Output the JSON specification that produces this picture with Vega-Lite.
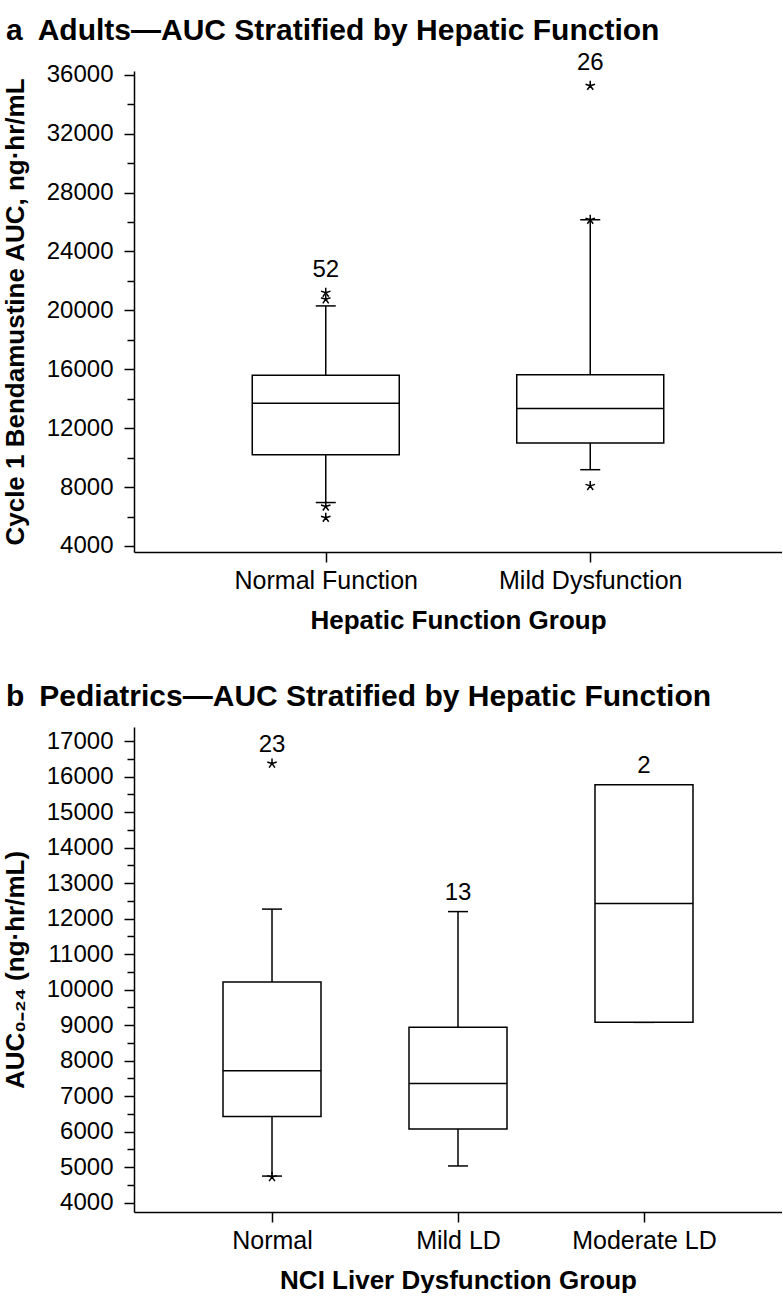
{
  "$schema": "https://vega.github.io/schema/vega-lite/v6.json",
  "background": "white",
  "padding": {"left": 2, "top": 15, "right": 0, "bottom": 0},
  "autosize": {"type": "pad"},
  "spacing": 49,
  "config": {
    "font": "Liberation Sans",
    "view": {"stroke": null},
    "axis": {
      "domainColor": "black", "domainWidth": 1.5, "tickColor": "black", "tickWidth": 1.5,
      "labelColor": "black", "titleColor": "black", "labelFont": "Liberation Sans",
      "titleFont": "Liberation Sans", "grid": false, "labelOverlap": false, "labelLimit": 0
    },
    "title": {"font": "Liberation Sans", "fontSize": 30, "fontWeight": "bold", "anchor": "start", "color": "black", "baseline": "alphabetic", "frame": "group"}
  },
  "datasets": {
    "boxA": [
      {"group": "Normal Function", "q1": 10200, "median": 13700, "q3": 15600, "lo": 6950, "hi": 20300, "n": 52, "top": 21200},
      {"group": "Mild Dysfunction", "q1": 11000, "median": 13330, "q3": 15620, "lo": 9180, "hi": 26150, "n": 26, "top": 35250}
    ],
    "outA": [
      {"group": "Normal Function", "value": 21200},
      {"group": "Normal Function", "value": 20750},
      {"group": "Normal Function", "value": 6680},
      {"group": "Normal Function", "value": 5920},
      {"group": "Mild Dysfunction", "value": 35250},
      {"group": "Mild Dysfunction", "value": 26150},
      {"group": "Mild Dysfunction", "value": 8080}
    ],
    "boxB": [
      {"group": "Normal", "q1": 6430, "median": 7720, "q3": 10220, "lo": 4750, "hi": 12270, "n": 23, "top": 16370},
      {"group": "Mild LD", "q1": 6075, "median": 7360, "q3": 8940, "lo": 5035, "hi": 12200, "n": 13, "top": 12200},
      {"group": "Moderate LD", "q1": 9080, "median": 12430, "q3": 15770, "lo": 9080, "hi": 15770, "n": 2, "top": 15770}
    ],
    "outB": [
      {"group": "Normal", "value": 16370},
      {"group": "Normal", "value": 4720}
    ]
  },
  "vconcat": [
    {
      "width": 648,
      "height": 481,
      "title": {"text": "a\u2002Adults—AUC Stratified by Hepatic Function", "dx": -128, "offset": 5},
      "encoding": {
        "x": {
          "field": "group", "type": "nominal",
          "scale": {"type": "point", "padding": 0.725, "domain": ["Normal Function", "Mild Dysfunction"]},
          "axis": {"title": "Hepatic Function Group", "labelAngle": 0, "labelLimit": 0, "tickSize": 10, "labelFontSize": 25, "labelPadding": 6, "titleFontSize": 26, "titleFontWeight": "bold", "titlePadding": 14}
        }
      },
      "layer": [
        {
          "data": {"name": "boxA"},
          "mark": {"type": "rule", "color": "black", "strokeWidth": 1.5},
          "encoding": {
            "y": {
              "field": "lo", "type": "quantitative",
              "scale": {"domain": [3592, 36250], "nice": false, "zero": false},
              "axis": {
                "title": "Cycle 1 Bendamustine AUC, ng·hr/mL",
                "values": [4000, 6000, 8000, 10000, 12000, 14000, 16000, 18000, 20000, 22000, 24000, 26000, 28000, 30000, 32000, 34000, 36000],
                "tickCount": 100,
                "format": "d",
                "labelExpr": "datum.value % 4000 === 0 ? datum.label : ''",
                "labelOverlap": false,
                "tickSize": {"condition": {"test": "datum.value % 4000 === 0", "value": 10}, "value": 7},
                "labelFontSize": 24, "labelPadding": 11,
                "titleFontSize": 26, "titleFontWeight": "bold", "titlePadding": 18
              }
            },
            "y2": {"field": "hi"}
          }
        },
        {
          "data": {"name": "boxA"},
          "mark": {"type": "tick", "color": "black", "thickness": 1.5, "size": 20, "opacity": 1},
          "encoding": {"y": {"field": "lo", "type": "quantitative"}}
        },
        {
          "data": {"name": "boxA"},
          "mark": {"type": "tick", "color": "black", "thickness": 1.5, "size": 20, "opacity": 1},
          "encoding": {"y": {"field": "hi", "type": "quantitative"}}
        },
        {
          "data": {"name": "boxA"},
          "mark": {"type": "bar", "fill": "white", "stroke": "black", "strokeWidth": 1.5, "width": 147},
          "encoding": {"y": {"field": "q1", "type": "quantitative"}, "y2": {"field": "q3"}}
        },
        {
          "data": {"name": "boxA"},
          "mark": {"type": "tick", "color": "black", "thickness": 1.5, "size": 147, "opacity": 1},
          "encoding": {"y": {"field": "median", "type": "quantitative"}}
        },
        {
          "data": {"name": "outA"},
          "mark": {"type": "point", "shape": "M0,0L0,-1M0,0L0.951,-0.309M0,0L0.588,0.809M0,0L-0.588,0.809M0,0L-0.951,-0.309", "size": 100, "stroke": "black", "strokeWidth": 1.5, "filled": false, "opacity": 1},
          "encoding": {"y": {"field": "value", "type": "quantitative"}}
        },
        {
          "data": {"name": "boxA"},
          "mark": {"type": "text", "fontSize": 24, "dy": -23, "baseline": "middle", "color": "black"},
          "encoding": {"y": {"field": "top", "type": "quantitative"}, "text": {"field": "n", "type": "nominal"}}
        }
      ]
    },
    {
      "width": 648,
      "height": 485,
      "title": {"text": "b\u2002Pediatrics—AUC Stratified by Hepatic Function", "dx": -128, "offset": 15},
      "encoding": {
        "x": {
          "field": "group", "type": "nominal",
          "scale": {"type": "point", "padding": 0.742, "domain": ["Normal", "Mild LD", "Moderate LD"]},
          "axis": {"title": "NCI Liver Dysfunction Group", "labelAngle": 0, "labelLimit": 0, "tickSize": 10, "labelFontSize": 25, "labelPadding": 6, "titleFontSize": 26, "titleFontWeight": "bold", "titlePadding": 14}
        }
      },
      "layer": [
        {
          "data": {"name": "boxB"},
          "mark": {"type": "rule", "color": "black", "strokeWidth": 1.5},
          "encoding": {
            "y": {
              "field": "lo", "type": "quantitative",
              "scale": {"domain": [3738, 17400], "nice": false, "zero": false},
              "axis": {
                "title": "AUC₀₋₂₄ (ng·hr/mL)",
                "values": [4000, 4500, 5000, 5500, 6000, 6500, 7000, 7500, 8000, 8500, 9000, 9500, 10000, 10500, 11000, 11500, 12000, 12500, 13000, 13500, 14000, 14500, 15000, 15500, 16000, 16500, 17000],
                "tickCount": 100,
                "format": "d",
                "labelExpr": "datum.value % 1000 === 0 ? datum.label : ''",
                "labelOverlap": false,
                "tickSize": {"condition": {"test": "datum.value % 1000 === 0", "value": 10}, "value": 7},
                "labelFontSize": 24, "labelPadding": 11,
                "titleFontSize": 26, "titleFontWeight": "bold", "titlePadding": 18
              }
            },
            "y2": {"field": "hi"}
          }
        },
        {
          "data": {"name": "boxB"},
          "mark": {"type": "tick", "color": "black", "thickness": 1.5, "size": 20, "opacity": 1},
          "encoding": {"y": {"field": "lo", "type": "quantitative"}}
        },
        {
          "data": {"name": "boxB"},
          "mark": {"type": "tick", "color": "black", "thickness": 1.5, "size": 20, "opacity": 1},
          "encoding": {"y": {"field": "hi", "type": "quantitative"}}
        },
        {
          "data": {"name": "boxB"},
          "mark": {"type": "bar", "fill": "white", "stroke": "black", "strokeWidth": 1.5, "width": 98},
          "encoding": {"y": {"field": "q1", "type": "quantitative"}, "y2": {"field": "q3"}}
        },
        {
          "data": {"name": "boxB"},
          "mark": {"type": "tick", "color": "black", "thickness": 1.5, "size": 98, "opacity": 1},
          "encoding": {"y": {"field": "median", "type": "quantitative"}}
        },
        {
          "data": {"name": "outB"},
          "mark": {"type": "point", "shape": "M0,0L0,-1M0,0L0.951,-0.309M0,0L0.588,0.809M0,0L-0.588,0.809M0,0L-0.951,-0.309", "size": 100, "stroke": "black", "strokeWidth": 1.5, "filled": false, "opacity": 1},
          "encoding": {"y": {"field": "value", "type": "quantitative"}}
        },
        {
          "data": {"name": "boxB"},
          "mark": {"type": "text", "fontSize": 24, "dy": -19, "baseline": "middle", "color": "black"},
          "encoding": {"y": {"field": "top", "type": "quantitative"}, "text": {"field": "n", "type": "nominal"}}
        }
      ]
    }
  ]
}
